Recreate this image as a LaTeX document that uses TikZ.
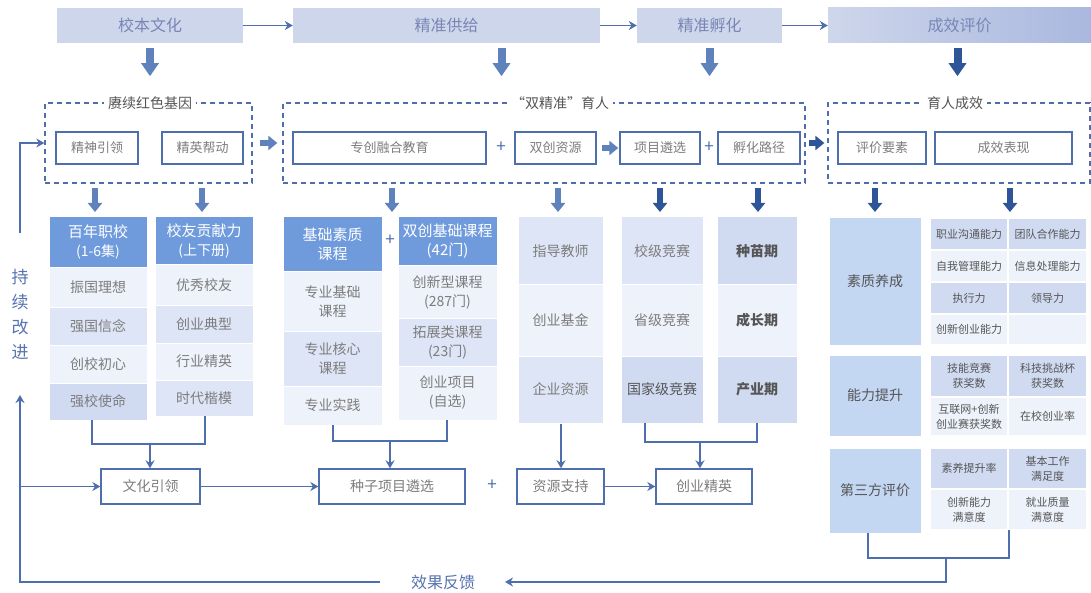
\documentclass[tikz,border=0pt]{standalone}
\usepackage{fontspec}
\setmainfont{Noto Sans CJK SC}
\usetikzlibrary{arrows.meta}
\definecolor{hdrc}{HTML}{CED6EB}
\definecolor{hdrd}{HTML}{AAB8DF}
\definecolor{hdrt}{HTML}{7886B5}
\definecolor{lnc}{HTML}{4D6FAE}
\definecolor{blkc}{HTML}{5F82BC}
\definecolor{blkd}{HTML}{2E5597}
\definecolor{colh}{HTML}{6F9BDD}
\definecolor{lite}{HTML}{EEF2FB}
\definecolor{midc}{HTML}{DDE5F6}
\definecolor{dkc}{HTML}{D0DBF2}
\definecolor{bigc}{HTML}{C3D6F2}
\definecolor{txg}{HTML}{7D7D7D}
\definecolor{txd}{HTML}{555555}
\definecolor{txb}{HTML}{5874B0}
\newcommand\fsz[2]{\fontsize{#1}{#2}\selectfont}
\newcommand\mybx[7]{\node[#6,minimum width={#4pt-#2pt},minimum height={#5pt-#3pt}] (#1) at ({(#2+#4)/2},{(#3+#5)/2}) {#7};}
\tikzset{
  hdr/.style={fill=hdrc,text=hdrt,font=\fsz{16}{19},inner sep=0pt},
  hdrg/.style={left color=hdrc,right color=hdrd,text=hdrt,font=\fsz{16}{19},inner sep=0pt},
  wbox/.style={draw=lnc,line width=1.4pt,fill=white,text=txg,font=\fsz{13}{16},inner sep=0pt},
  dbox/.style={draw=lnc,line width=1.3pt,dash pattern=on 5pt off 4pt,inner sep=0pt},
  dtitle/.style={fill=white,text=txd,font=\fsz{14}{17},inner sep=4pt},
  colhd/.style={fill=colh,draw=white,line width=1pt,text=white,align=center,font=\fsz{15}{19},inner sep=0pt},
  lt/.style={fill=lite,draw=white,line width=1pt,text=txg,align=center,font=\fsz{14}{19},inner sep=0pt},
  md/.style={fill=midc,draw=white,line width=1pt,text=txg,align=center,font=\fsz{14}{19},inner sep=0pt},
  dk/.style={fill=dkc,draw=white,line width=1pt,text=txg,align=center,font=\fsz{14}{19},inner sep=0pt},
  big/.style={fill=bigc,draw=white,line width=1pt,text=txd,align=center,font=\fsz{14}{19},inner sep=0pt},
  gdk/.style={fill=dkc,draw=white,line width=1.5pt,text=txd,align=center,font=\fsz{11}{15},inner sep=0pt},
  glt/.style={fill=lite,draw=white,line width=1.5pt,text=txd,align=center,font=\fsz{11}{15},inner sep=0pt},
  plus/.style={text=lnc,font=\fsz{17}{19},inner sep=0pt},
  arr/.style={draw=lnc,line width=1.4pt,-{Stealth[length=8pt,width=9pt]}},
  ln/.style={draw=lnc,line width=1.5pt},
  blkbig/.style={draw=blkc,line width=8pt,-{Triangle[length=13pt,width=17pt]}},
  blkbigd/.style={draw=blkd,line width=8pt,-{Triangle[length=13pt,width=17pt]}},
  blks/.style={draw=blkc,line width=6pt,-{Triangle[length=9pt,width=14pt]}},
  blksd/.style={draw=blkd,line width=6pt,-{Triangle[length=9pt,width=14pt]}}
}
\begin{document}
\begin{tikzpicture}[x=1pt,y=-1pt]
\useasboundingbox[fill=white] (0,0) rectangle (1091,593);
% headers
\mybx{h1}{57}{8}{243}{43}{hdr}{校本文化}
\mybx{h2}{293}{8}{600}{43}{hdr}{精准供给}
\mybx{h3}{637}{8}{782}{43}{hdr}{精准孵化}
\mybx{h4}{828}{8}{1091}{43}{hdrg}{成效评价}
\draw[arr] (h1.east) -- (h2.west);
\draw[arr] (h2.east) -- (h3.west);
\draw[arr] (h3.east) -- (h4.west);
\draw[blkbig] ([yshift=-5pt]h1.south) -- ++(0,28);
\draw[blkbig] ([xshift=55pt,yshift=-5pt]h2.south) -- ++(0,28);
\draw[blkbig] ([yshift=-5pt]h3.south) -- ++(0,28);
\draw[blkbigd] ([xshift=-2pt,yshift=-5pt]h4.south) -- ++(0,28);
% dashed groups
\mybx{d1}{45}{103}{252}{183}{dbox}{}
\mybx{d2}{283}{103}{805}{183}{dbox}{}
\mybx{d3}{828}{103}{1090}{183}{dbox}{}
\node[dtitle] (t1) at (150,103) {赓续红色基因};
\node[dtitle] (t2) at (560,103) {“双精准”育人};
\node[dtitle] (t3) at (955,103) {育人成效};
\mybx{i1}{56}{132}{138}{164}{wbox}{精神引领}
\mybx{i2}{162}{132}{243}{164}{wbox}{精英帮动}
\mybx{i3}{293}{132}{486}{164}{wbox}{专创融合教育}
\node[plus] (p1) at (501,147) {+};
\mybx{i4}{515}{132}{596}{164}{wbox}{双创资源}
\mybx{i5}{620}{132}{700}{164}{wbox}{项目遴选}
\node[plus] (p2) at (709,147) {+};
\mybx{i6}{718}{132}{800}{164}{wbox}{孵化路径}
\mybx{i7}{838}{132}{926}{164}{wbox}{评价要素}
\mybx{i8}{935}{132}{1072}{164}{wbox}{成效表现}
\draw[blks] ([xshift=5pt]i4.east) -- ([xshift=-1pt]i5.west);
\draw[blks] ([xshift=7pt]d1.east) -- ([xshift=-5pt]d2.west);
\draw[blksd] ([xshift=3pt]d2.east) -- ([xshift=-3pt]d3.west);
% small down arrows
\foreach \xx in {95,202,392,558}{\draw[blks] (\xx,188) -- (\xx,212);}
\foreach \xx in {660,758,875,1010}{\draw[blksd] (\xx,188) -- (\xx,212);}
% column A
\mybx{a0}{49}{217}{147}{268}{colhd}{百年职校\\{\fsz{14}{18}(1-6集)}}
\mybx{a1}{49}{268}{147}{307}{lt}{振国理想}
\mybx{a2}{49}{307}{147}{345}{md}{强国信念}
\mybx{a3}{49}{345}{147}{383}{lt}{创校初心}
\mybx{a4}{49}{383}{147}{420}{dk}{强校使命}
% column B
\mybx{b0}{155}{217}{253}{265}{colhd}{校友贡献力\\{\fsz{14}{18}(上下册)}}
\mybx{b1}{155}{265}{253}{305}{lt}{优秀校友}
\mybx{b2}{155}{305}{253}{343}{md}{创业典型}
\mybx{b3}{155}{343}{253}{380}{lt}{行业精英}
\mybx{b4}{155}{380}{253}{416}{md}{时代楷模}
% column C
\mybx{c0}{283}{217}{382}{272}{colhd}{基础素质\\课程}
\mybx{c1}{283}{272}{382}{331}{lt}{专业基础\\课程}
\mybx{c2}{283}{331}{382}{386}{md}{专业核心\\课程}
\mybx{c3}{283}{386}{382}{425}{lt}{专业实践}
\node[plus] (p3) at (390,240) {+};
% column D
\mybx{e0}{398}{217}{497}{266}{colhd}{双创基础课程\\(42门)}
\mybx{e1}{398}{266}{497}{318}{lt}{创新型课程\\(287门)}
\mybx{e2}{398}{318}{497}{366}{md}{拓展类课程\\(23门)}
\mybx{e3}{398}{366}{497}{420}{lt}{创业项目\\(自选)}
% column E
\mybx{f1}{518}{217}{603}{285}{md}{指导教师}
\mybx{f2}{518}{285}{603}{356}{lt}{创业基金}
\mybx{f3}{518}{356}{603}{423}{md}{企业资源}
% column F
\mybx{g1}{621}{217}{703}{285}{md}{校级竞赛}
\mybx{g2}{621}{285}{703}{356}{lt}{省级竞赛}
\mybx{g3}{621}{356}{703}{423}{dk,text=txd}{国家级竞赛}
% column G
\mybx{k1}{717}{217}{797}{285}{dk,text=txd,font=\fsz{14}{19}\bfseries}{种苗期}
\mybx{k2}{717}{285}{797}{356}{lt,text=txd,font=\fsz{14}{19}\bfseries}{成长期}
\mybx{k3}{717}{356}{797}{423}{dk,text=txd,font=\fsz{14}{19}\bfseries}{产业期}
% right section
\mybx{r1}{829}{218}{921}{345}{big}{素质养成}
\mybx{r2}{829}{355}{921}{436}{big}{能力提升}
\mybx{r3}{829}{448}{921}{533}{big}{第三方评价}
\mybx{q11}{930}{218}{1008}{250}{gdk}{职业沟通能力}
\mybx{q12}{1008}{218}{1087}{250}{gdk}{团队合作能力}
\mybx{q21}{930}{250}{1008}{282}{glt}{自我管理能力}
\mybx{q22}{1008}{250}{1087}{282}{glt}{信息处理能力}
\mybx{q31}{930}{282}{1008}{314}{gdk}{执行力}
\mybx{q32}{1008}{282}{1087}{314}{gdk}{领导力}
\mybx{q41}{930}{314}{1008}{345}{glt}{创新创业能力}
\mybx{q42}{1008}{314}{1087}{345}{glt}{}
\mybx{s11}{930}{355}{1008}{397}{gdk}{技能竞赛\\获奖数}
\mybx{s12}{1008}{355}{1087}{397}{gdk}{科技挑战杯\\获奖数}
\mybx{s21}{930}{397}{1008}{436}{glt}{互联网+创新\\创业赛获奖数}
\mybx{s22}{1008}{397}{1087}{436}{glt}{在校创业率}
\mybx{u11}{930}{448}{1008}{489}{gdk}{素养提升率}
\mybx{u12}{1008}{448}{1087}{489}{gdk}{基本工作\\满足度}
\mybx{u21}{930}{489}{1008}{530}{glt}{创新能力\\满意度}
\mybx{u22}{1008}{489}{1087}{530}{glt}{就业质量\\满意度}
% bottom row
\mybx{w1}{101}{469}{200}{504}{wbox,font=\fsz{14}{17}}{文化引领}
\mybx{w2}{319}{469}{465}{504}{wbox,font=\fsz{14}{17}}{种子项目遴选}
\node[plus] (p4) at (492,485) {+};
\mybx{w3}{517}{469}{604}{504}{wbox,font=\fsz{14}{17}}{资源支持}
\mybx{w4}{656}{469}{752}{504}{wbox,font=\fsz{14}{17}}{创业精英}
\draw[arr] (w1.east) -- (w2.west);
\draw[arr] (w3.east) -- (w4.west);
% brackets
\draw[ln] (92,420) -- (92,444) -- (205,444) -- (205,416);
\draw[arr] (150,444) -- (w1.north -| 150,0);
\draw[ln] (333,425) -- (333,441) -- (447,441) -- (447,420);
\draw[arr] (390,441) -- (w2.north -| 390,0);
\draw[arr] (f3.south -| 561,0) -- (w3.north -| 561,0);
\draw[ln] (645,423) -- (645,442) -- (757,442) -- (757,423);
\draw[arr] (700,442) -- (w4.north -| 700,0);
\draw[ln] (868,533) -- (868,558) -- (1009,558) -- (1009,530);
% feedback
\node[text=txb,font=\fsz{16}{19},inner sep=0pt] (fb) at (443,582) {效果反馈};
\coordinate (fbR) at (505,582);
\coordinate (cU) at (20,395);
\coordinate (cT) at (20,233);
\draw[arr] (946,558) |- (fbR);
\draw[arr] ([xshift=-31pt]fb.west) -| (cU);
\draw[arr] (cU |- w1.west) -- (w1.west);
\draw[arr] (cT) |- (d1.west);
\node[text=txb,font=\fsz{17}{25},align=center,inner sep=0pt] (cx) at (20,314) {持\\续\\改\\进};
\end{tikzpicture}
\end{document}
